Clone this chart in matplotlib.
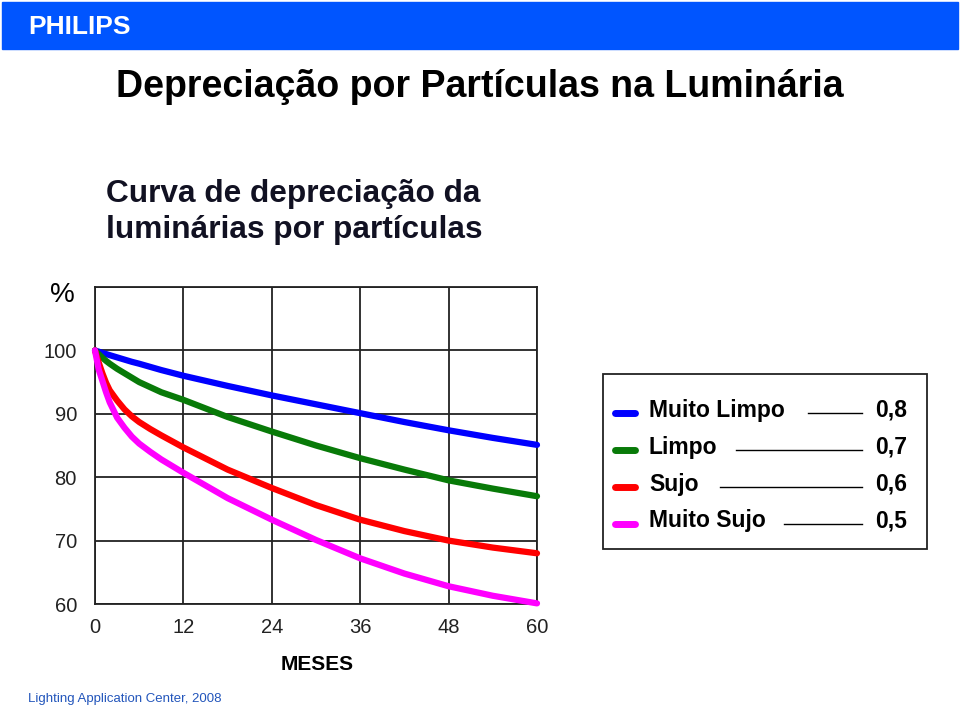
import matplotlib
matplotlib.use("Agg")
import matplotlib.pyplot as plt
from matplotlib.patches import Rectangle
from matplotlib.lines import Line2D

plt.rcParams['font.family'] = ['Liberation Sans', 'DejaVu Sans']

# data (months, % of initial output)
meses = [0, 0.5, 1, 1.5, 2, 3, 4, 5, 6, 7.5, 9, 12, 18, 24, 30, 36, 42, 48, 54, 60]
muito_limpo = [100, 99.8, 99.6, 99.43, 99.25, 98.9, 98.55, 98.2, 97.9, 97.4, 96.9, 96.0, 94.4, 92.9, 91.5, 90.1, 88.7, 87.4, 86.2, 85.1]
limpo = [100, 99.4, 98.85, 98.35, 97.9, 97.1, 96.4, 95.7, 95.0, 94.2, 93.4, 92.2, 89.5, 87.2, 85.0, 83.0, 81.2, 79.5, 78.2, 77.0]
sujo = [100, 98.1, 96.4, 94.9, 93.7, 92.1, 90.7, 89.6, 88.7, 87.6, 86.6, 84.7, 81.2, 78.3, 75.6, 73.3, 71.5, 70.0, 68.9, 68.0]
muito_sujo = [100, 97.0, 95.2, 93.4, 91.8, 89.4, 87.8, 86.4, 85.3, 84.0, 82.8, 80.7, 76.7, 73.3, 70.1, 67.2, 64.8, 62.8, 61.3, 60.1]

series = [("Muito Limpo", muito_limpo, "#0000ff", "0,8"),
          ("Limpo", limpo, "#087a08", "0,7"),
          ("Sujo", sujo, "#ff0000", "0,6"),
          ("Muito Sujo", muito_sujo, "#ff00ff", "0,5")]

x_ticks = [0, 12, 24, 36, 48, 60]
y_ticks = [60, 70, 80, 90, 100, 110]
y_labels = ["60", "70", "80", "90", "100", ""]

W, H = 960, 710
fig = plt.figure(figsize=(W / 100, H / 100), dpi=100)


def fx(x):
    return x / W


def fy(y):
    return 1 - y / H


# header bar
fig.patches.append(Rectangle((fx(2), fy(49)), fx(956), 47 / H, transform=fig.transFigure,
                             color="#0055ff", zorder=0))
fig.text(fx(28), fy(27), "PHILIPS", color="white", fontsize=19, fontweight="bold",
         va="center", ha="left")

fig.text(fx(480), fy(87), "Depreciação por Partículas na Luminária", fontsize=27,
         fontweight="bold", ha="center", va="center")
fig.text(fx(106), fy(212), "Curva de depreciação da\nluminárias por partículas", fontsize=22.8,
         fontweight="bold", ha="left", va="center", linespacing=1.28, color="#111122")

# chart
ax = fig.add_axes([fx(95), fy(604), (537 - 95) / W, (604 - 287) / H])
for nome, vals, cor, k in series:
    ax.plot(meses, vals, color=cor, lw=4.5, solid_capstyle="round", solid_joinstyle="round",
            clip_on=False, zorder=3)
ax.set_xlim(0, 60)
ax.set_ylim(60, 110)
ax.set_xticks(x_ticks)
ax.set_yticks(y_ticks)
ax.set_yticklabels(y_labels)
ax.tick_params(length=0, labelsize=14.5, colors="#222222")
ax.tick_params(axis="y", pad=13)
ax.tick_params(axis="x", pad=10)
ax.grid(True, color="#222222", lw=1.3)
for s in ax.spines.values():
    s.set_color("#222222")
    s.set_linewidth(1.3)
ax.set_xlabel("MESES", fontsize=15, fontweight="bold")
ax.xaxis.set_label_coords((317 - 95) / (537 - 95), -(655 - 604) / (604 - 287))

fig.text(fx(62), fy(295), "%", fontsize=20, ha="center", va="center")

# legend box
fig.patches.append(Rectangle((fx(603), fy(549)), fx(324), 175 / H, transform=fig.transFigure,
                             facecolor="white", edgecolor="#222222", lw=1.3))
rows_y = [410, 447, 484, 521]
line_start = [808, 736, 720, 784]
for (nome, vals, cor, k), yy, xs in zip(series, rows_y, line_start):
    fig.add_artist(Line2D([fx(615), fx(635)], [fy(yy + 3), fy(yy + 3)], color=cor, lw=5,
                          solid_capstyle="round"))
    fig.text(fx(649), fy(yy), nome, fontsize=16.5, fontweight="bold", va="center", ha="left")
    fig.add_artist(Line2D([fx(xs), fx(862)], [fy(yy + 3), fy(yy + 3)], color="black", lw=1))
    fig.text(fx(907), fy(yy), k, fontsize=16.5, fontweight="bold", va="center", ha="right")

fig.text(fx(28), fy(699), "Lighting Application Center, 2008", fontsize=9.5, color="#2255bb",
         va="center", ha="left")

fig.savefig("out.png", dpi=100)
